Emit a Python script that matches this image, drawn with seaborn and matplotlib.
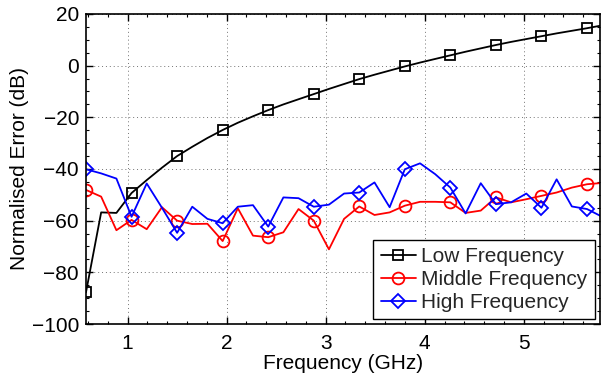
import numpy as np
import pandas as pd
import matplotlib
matplotlib.use("Agg")
import matplotlib.pyplot as plt
from matplotlib.ticker import MultipleLocator
import seaborn as sns

# frequency grid (GHz)
freq = [0.580, 0.733, 0.887, 1.040, 1.193, 1.347, 1.500, 1.653, 1.806, 1.960,
        2.113, 2.266, 2.420, 2.573, 2.726, 2.880, 3.033, 3.186, 3.339, 3.493,
        3.646, 3.799, 3.953, 4.106, 4.259, 4.413, 4.566, 4.719, 4.872, 5.026,
        5.179, 5.332, 5.486, 5.639, 5.792]

low_freq = [-87.7, -56.8, -57.0, -49.3, -44.3, -39.5, -35.0, -31.4, -28.0, -24.9,
            -22.1, -19.6, -17.2, -15.0, -13.0, -11.0, -9.0, -7.1, -5.2, -3.5,
            -1.9, -0.3, 1.2, 2.6, 4.0, 5.4, 6.7, 8.0, 9.2, 10.3,
            11.4, 12.5, 13.5, 14.5, 15.6]

mid_freq = [-48.1, -50.7, -63.7, -59.7, -63.3, -54.8, -60.0, -61.3, -61.2, -67.9,
            -55.2, -65.8, -66.4, -64.5, -55.5, -60.0, -71.1, -59.3, -54.5, -57.8,
            -56.8, -54.2, -52.7, -52.7, -52.9, -57.0, -56.1, -51.0, -52.9, -51.7,
            -50.4, -49.1, -47.2, -45.9, -45.4]

high_freq = [-40.1, -41.7, -43.7, -58.5, -45.6, -55.0, -64.7, -54.6, -59.3, -61.0,
             -54.6, -54.0, -62.3, -51.0, -51.3, -54.6, -53.8, -49.5, -49.1, -45.2,
             -54.8, -40.1, -37.8, -42.0, -47.2, -57.2, -45.5, -53.6, -52.9, -49.5,
             -55.0, -44.0, -54.5, -55.5, -58.5]

series = [
    ("Low Frequency", low_freq, "black", "s", 7.2),
    ("Middle Frequency", mid_freq, "red", "o", 8.5),
    ("High Frequency", high_freq, "blue", "D", 7.0),
]

sns.set_theme(style="white")
plt.rcParams["font.family"] = ["Liberation Sans", "DejaVu Sans"]
plt.rcParams["axes.unicode_minus"] = True

fig = plt.figure(figsize=(6.01, 3.73), dpi=100)
ax = fig.add_axes([86 / 601, 1 - 324 / 373, (599.5 - 86) / 601, (324 - 14) / 373])

for name, vals, col, mk, ms in series:
    df = pd.DataFrame({"freq": freq, "err": vals})
    sns.lineplot(data=df, x="freq", y="err", ax=ax, color=col, lw=1.3,
                 marker=mk, markersize=ms, markevery=3, mfc="none",
                 mec=col, mew=1.3, label=name, estimator=None, sort=False)

ax.set_xlim(0.58, 5.765)
ax.set_ylim(-100, 20)
ax.xaxis.set_major_locator(MultipleLocator(1))
ax.xaxis.set_minor_locator(MultipleLocator(0.2))
ax.yaxis.set_major_locator(MultipleLocator(20))
ax.yaxis.set_minor_locator(MultipleLocator(5))

# MATLAB-ish sparse dotted grid
ax.grid(True, which="major", ls=(0, (1, 3)), color="0.45", lw=0.7)
for s in ax.spines.values():
    s.set_color("black")
    s.set_linewidth(1.2)
    s.set_visible(True)

ax.tick_params(which="both", direction="in", top=True, right=True,
               bottom=True, left=True, colors="black", labelsize=15)
ax.tick_params(which="major", length=5, width=1.0)
ax.tick_params(which="minor", length=2.5, width=0.8)
ax.tick_params(axis="x", which="major", pad=7)
ax.tick_params(axis="y", which="major", pad=5)

ax.set_xlabel("Frequency (GHz)", fontsize=15, labelpad=1, color="black")
ax.set_ylabel("Normalised Error (dB)", fontsize=15, labelpad=2, color="black")

leg = ax.legend(loc="lower right", fontsize=15, frameon=True, fancybox=False,
                framealpha=1, edgecolor="black", borderpad=0.35,
                borderaxespad=0.22, handlelength=1.7, handletextpad=0.25,
                labelspacing=0.2)
leg.get_frame().set_linewidth(1.0)

fig.savefig("out.png", dpi=100)
